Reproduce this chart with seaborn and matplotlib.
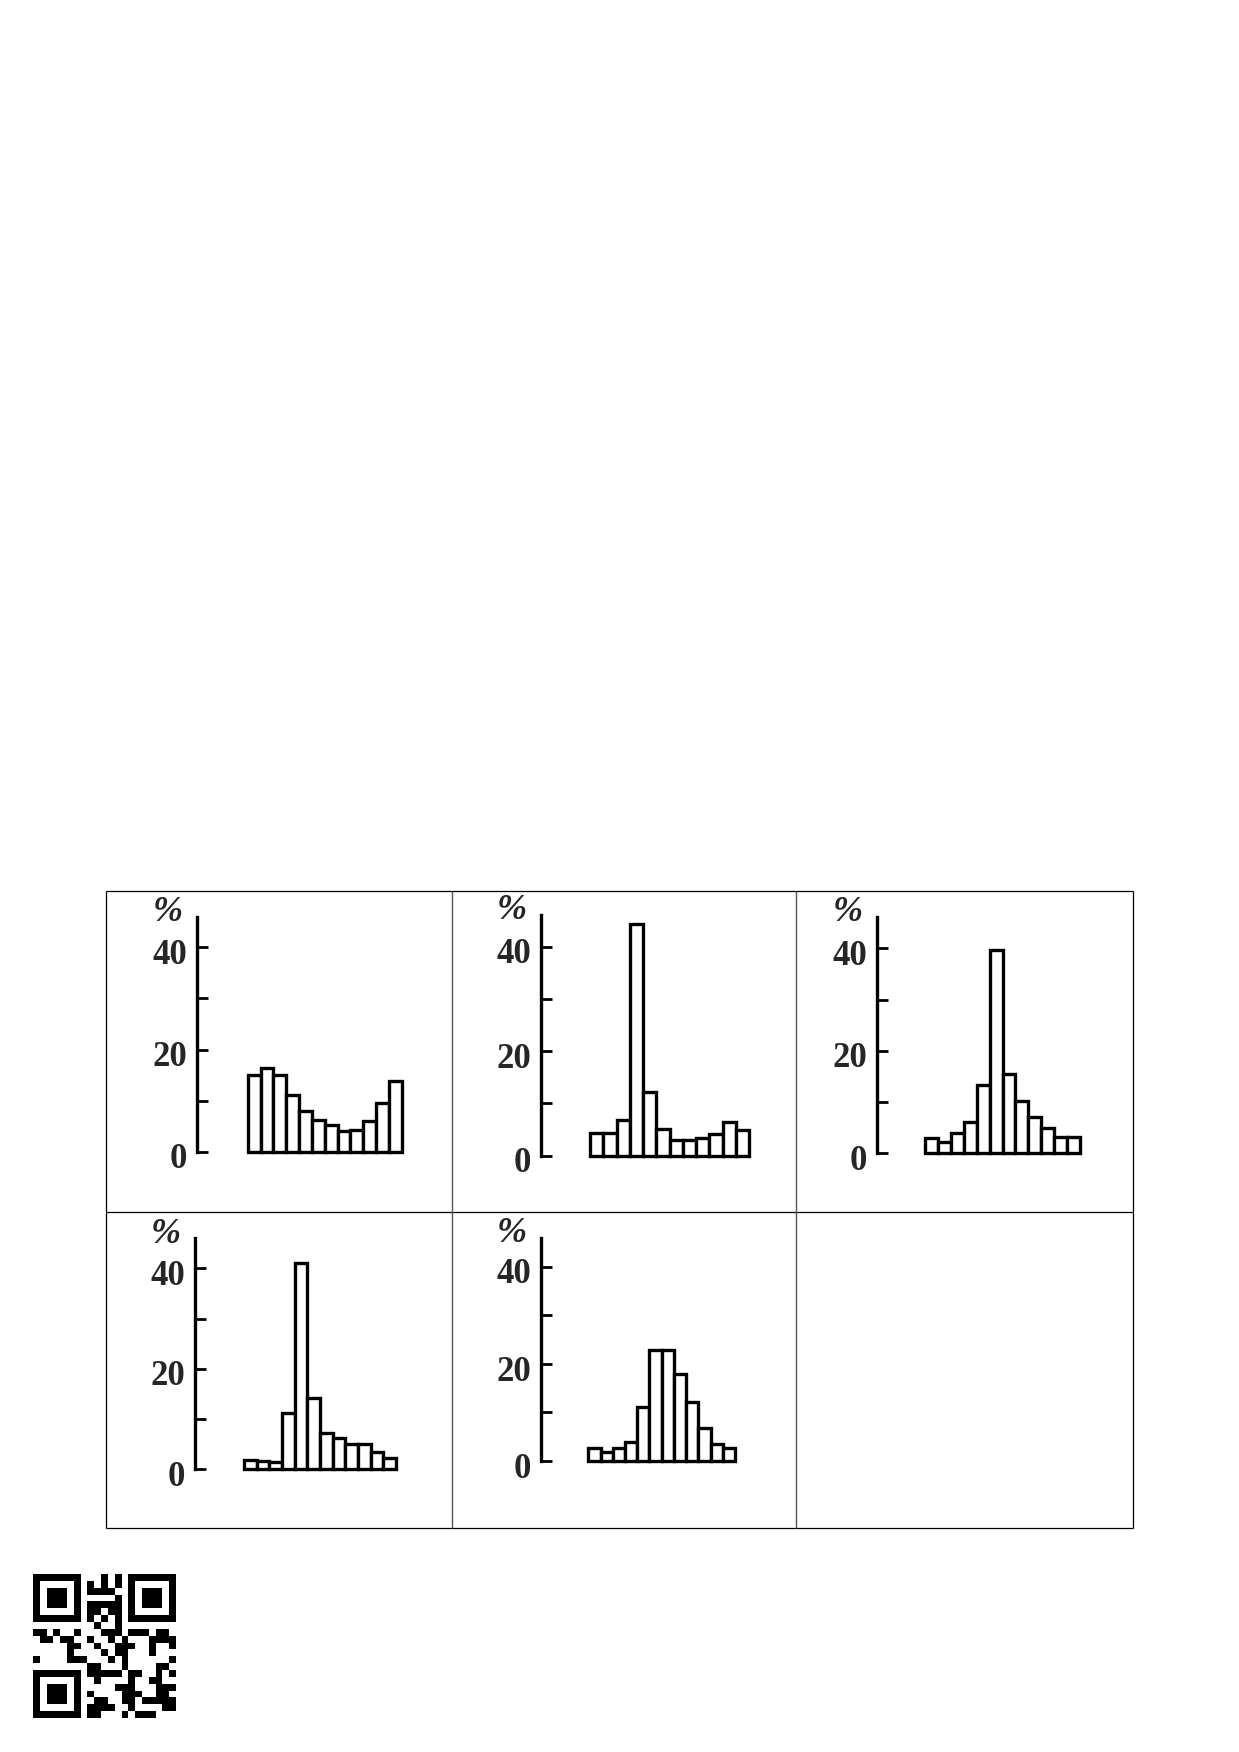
import numpy as np
import pandas as pd
import matplotlib
matplotlib.use("Agg")
import matplotlib.pyplot as plt
from matplotlib.transforms import ScaledTranslation
import seaborn as sns

# Bin index (12 classes per histogram)
bins = list(range(12))

# Percentages (row by row)
pct_a = [15.0, 16.4, 15.0, 11.0, 8.0, 6.2, 5.2, 4.1, 4.2, 6.0, 9.5, 13.8]
pct_b = [4.3, 4.3, 6.9, 44.3, 12.2, 5.2, 3.1, 3.0, 3.3, 4.1, 6.4, 4.9]
pct_c = [2.9, 2.3, 3.9, 6.2, 13.3, 39.6, 15.4, 10.3, 7.0, 4.9, 3.1, 3.2]
pct_d = [1.9, 1.7, 1.5, 11.3, 41.1, 14.2, 7.2, 6.3, 5.1, 5.1, 3.4, 2.2]
pct_e = [2.6, 1.9, 2.6, 4.0, 11.2, 22.9, 22.9, 17.9, 12.2, 6.8, 3.6, 2.6]

major_ticks = [0, 20, 40]
minor_ticks = [10, 30]

# QR code modules (21 x 21), 1 = black
qr_rows = [
    "111111100010101111111",
    "100000101010101000001",
    "101110101111001011101",
    "101110100000101011101",
    "101110101111101011101",
    "100000101101101000001",
    "111111101010101111111",
    "000000000100100000000",
    "110100100011101110110",
    "011011001001010001111",
    "000001100100111001001",
    "000001000010110001000",
    "100001110001010000001",
    "000000001100010000110",
    "111111101111101100101",
    "100000100100001001100",
    "101110100000111000111",
    "101110101000011100110",
    "101110100110011011111",
    "100000101111001000011",
    "111111101100010111000",
]

W, H = 1239, 1752
DPI = 100

sns.set_style("white")
plt.rcParams["font.family"] = ["Liberation Serif", "DejaVu Serif"]

fig = plt.figure(figsize=(W / DPI, H / DPI), dpi=DPI)
fig.patch.set_facecolor("white")

# background axes in pixel coordinates for the table grid
bg = fig.add_axes([0, 0, 1, 1])
bg.set_xlim(0, W)
bg.set_ylim(H, 0)
bg.axis("off")
bg.hlines([890.5, 1212, 1528], 106, 1133, color="black", lw=0.9)
bg.vlines([106, 1133], 890.5, 1528, color="black", lw=0.9)
bg.vlines([452, 796], 890.5, 1528, color="#555555", lw=1.0)


def to_fig(x0, y_top, x1, y_bottom):
    # pixel box -> figure fraction rect
    return [x0 / W, (H - y_bottom) / H, (x1 - x0) / W, (y_bottom - y_top) / H]


def draw_hist(values, axis_x, y0, y40, ytop, bar_left, bar_right):
    w = (bar_right - bar_left) / len(bins)
    ymax = 40 * (y0 - ytop) / (y0 - y40)
    ax = fig.add_axes(to_fig(axis_x, ytop, bar_right + w, y0))
    ax.patch.set_alpha(0)

    df = pd.DataFrame({"bin": bins, "pct": values})
    sns.barplot(data=df, x="bin", y="pct", color="white", edgecolor="black",
                linewidth=2.4, width=1.0, saturation=1, ax=ax)
    for p in ax.patches:
        p.set_clip_on(False)

    ax.set_xlim(-0.5 - (bar_left - axis_x) / w, len(bins) + 0.5)
    ax.set_ylim(0, ymax)
    ax.set_xlabel("")
    ax.set_ylabel("")
    ax.set_xticks([])

    for side in ["top", "right", "bottom"]:
        ax.spines[side].set_visible(False)
    ax.spines["left"].set_linewidth(2.4)
    ax.spines["left"].set_color("black")

    ax.set_yticks(major_ticks)
    ax.set_yticks(minor_ticks, minor=True)
    ax.set_yticklabels([str(t) for t in major_ticks])
    ax.tick_params(axis="y", which="both", direction="in", length=8,
                   width=2.0, color="black", left=True)
    ax.tick_params(axis="y", which="major", pad=7, labelsize=25)
    # labels sit slightly below their tick marks
    shift = ScaledTranslation(0, -3 / 72, fig.dpi_scale_trans)
    for lab in ax.get_yticklabels():
        lab.set_transform(lab.get_transform() + shift)
        lab.set_fontweight("bold")

    ax.annotate("%", xy=(0, ymax), xycoords=("axes fraction", "data"),
                xytext=(-21, 3), textcoords="offset points",
                ha="center", va="center", fontsize=26, style="italic",
                fontweight="bold", annotation_clip=False)
    return ax


# axis x, 0-tick y, 40-tick y, axis top y, first bar left, last bar right (pixels)
draw_hist(pct_a, 196.7, 1151.7, 947.3, 916.7, 247.7, 401.7)
draw_hist(pct_b, 540.7, 1155.7, 946.7, 915.0, 590.0, 749.0)
draw_hist(pct_c, 876.7, 1153.3, 948.3, 916.7, 925.0, 1080.0)
draw_hist(pct_d, 195.0, 1469.3, 1268.3, 1238.3, 244.0, 396.0)
draw_hist(pct_e, 540.7, 1461.0, 1266.7, 1237.7, 588.3, 735.0)

# QR code in the lower left corner
qr = np.array([[int(c) for c in row] for row in qr_rows])
qax = fig.add_axes(to_fig(33, 1574, 176, 1718))
qax.imshow(qr, cmap="gray_r", interpolation="nearest", aspect="auto")
qax.axis("off")

fig.savefig("out.png", dpi=DPI, facecolor="white")
